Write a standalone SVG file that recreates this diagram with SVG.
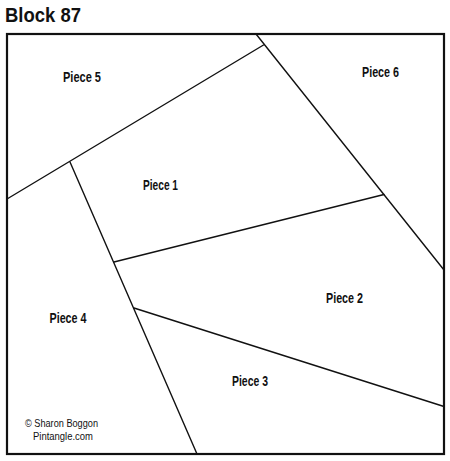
<svg xmlns="http://www.w3.org/2000/svg" width="450" height="461" viewBox="0 0 450 461">
<style>
.lbl{font-family:"Liberation Sans",Arial,sans-serif;font-weight:bold;font-size:14px;fill:#111;text-anchor:middle}
.ln{stroke:#111;stroke-width:1.4;fill:none;stroke-linecap:round}
.cr{font-family:"Liberation Sans",Arial,sans-serif;font-size:10.5px;fill:#111;text-anchor:middle}
</style>
<rect width="450" height="461" fill="#fff"/>
<text x="5" y="22" font-family="Liberation Sans, Arial, sans-serif" font-weight="bold" font-size="21" fill="#111" textLength="76" lengthAdjust="spacingAndGlyphs">Block 87</text>
<rect id="border" x="7" y="34" width="437" height="420" fill="none" stroke="#111" stroke-width="2.2"/>
<g id="connectors">
<line class="ln" x1="256" y1="34" x2="444" y2="270"/>
<line class="ln" x1="7" y1="199" x2="263.5" y2="45"/>
<line class="ln" x1="70" y1="162" x2="197" y2="454"/>
<line class="ln" x1="114" y1="262" x2="384" y2="194.5"/>
<line class="ln" x1="134" y1="308" x2="444" y2="406.5"/>
</g>
<g id="piece5"><text class="lbl" x="82" y="82" textLength="38" lengthAdjust="spacingAndGlyphs">Piece 5</text></g>
<g id="piece6"><text class="lbl" x="380.5" y="77" textLength="37" lengthAdjust="spacingAndGlyphs">Piece 6</text></g>
<g id="piece1"><text class="lbl" x="160.5" y="190" textLength="35" lengthAdjust="spacingAndGlyphs">Piece 1</text></g>
<g id="piece2"><text class="lbl" x="344.5" y="303" textLength="37" lengthAdjust="spacingAndGlyphs">Piece 2</text></g>
<g id="piece4"><text class="lbl" x="68" y="323" textLength="37" lengthAdjust="spacingAndGlyphs">Piece 4</text></g>
<g id="piece3"><text class="lbl" x="250" y="386" textLength="36" lengthAdjust="spacingAndGlyphs">Piece 3</text></g>
<g id="credit">
<text class="cr" x="61.5" y="427" textLength="73" lengthAdjust="spacingAndGlyphs">© Sharon Boggon</text>
<text class="cr" x="63" y="440" textLength="60" lengthAdjust="spacingAndGlyphs">Pintangle.com</text>
</g>
</svg>
